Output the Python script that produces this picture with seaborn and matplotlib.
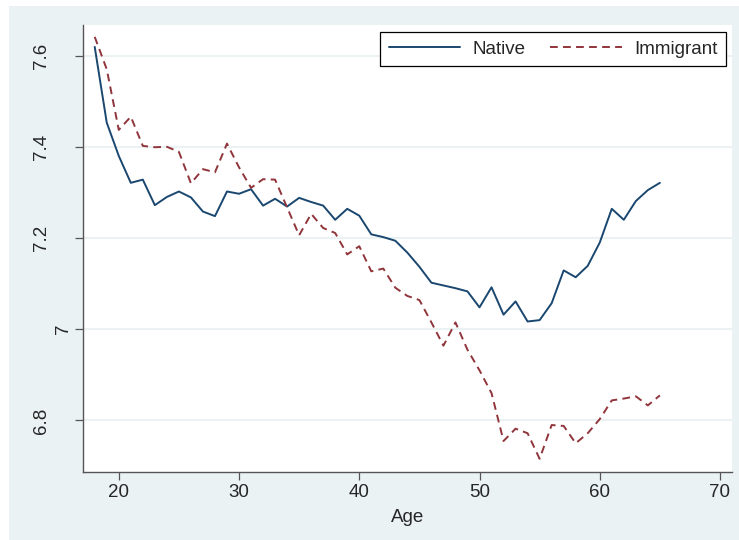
import numpy as np
import pandas as pd
import matplotlib
matplotlib.use("Agg")
import matplotlib.pyplot as plt
import matplotlib.transforms as mtransforms
from matplotlib.patches import Rectangle
from matplotlib.lines import Line2D
import seaborn as sns

# data (mean value by age)
ages = np.arange(18, 66)
native = [7.619, 7.453, 7.380, 7.321, 7.328, 7.272, 7.290, 7.302, 7.289, 7.258,
          7.248, 7.302, 7.297, 7.307, 7.271, 7.286, 7.269, 7.288, 7.279, 7.271,
          7.240, 7.264, 7.249, 7.208, 7.202, 7.194, 7.168, 7.137, 7.102, 7.096,
          7.090, 7.083, 7.048, 7.092, 7.032, 7.061, 7.017, 7.020, 7.057, 7.129,
          7.114, 7.139, 7.190, 7.264, 7.240, 7.281, 7.305, 7.321]
immigrant = [7.641, 7.570, 7.437, 7.466, 7.402, 7.399, 7.400, 7.389, 7.320, 7.351,
             7.344, 7.407, 7.355, 7.310, 7.329, 7.328, 7.267, 7.206, 7.253, 7.222,
             7.211, 7.164, 7.182, 7.127, 7.133, 7.091, 7.073, 7.064, 7.015, 6.964,
             7.015, 6.955, 6.910, 6.860, 6.755, 6.782, 6.772, 6.716, 6.790, 6.788,
             6.750, 6.772, 6.803, 6.844, 6.848, 6.853, 6.833, 6.855]
x_ticks = [20, 30, 40, 50, 60, 70]
y_ticks = [6.8, 7.0, 7.2, 7.4, 7.6]
y_tick_labels = ["6.8", "7", "7.2", "7.4", "7.6"]

navy = "#1a476f"
maroon = "#90353b"
bluish = "#eaf2f3"

sns.set_style("white")
plt.rcParams["font.family"] = ["Liberation Sans", "DejaVu Sans"]

fig = plt.figure(figsize=(7.39, 5.40), dpi=100, facecolor="white")
# Stata-like outer graph region, kept behind the axes
fig.add_artist(Rectangle((0.0122, 0.0), 0.9878, 0.9889, transform=fig.transFigure,
                         facecolor=bluish, edgecolor="none", zorder=-10))
ax = fig.add_axes([0.1119, 0.1259, 0.8780, 0.8278])
ax.set_facecolor("white")

sns.lineplot(x=ages, y=native, ax=ax, color=navy, linewidth=1.4)
sns.lineplot(x=ages, y=immigrant, ax=ax, color=maroon, linewidth=1.4,
             linestyle=(0, (4, 2.7)))

ax.set_xlim(17.0, 70.96)
ax.set_ylim(6.687, 7.667)
ax.set_xticks(x_ticks)
ax.set_yticks(y_ticks)
ax.set_yticklabels(y_tick_labels, rotation=90, va="center", ha="center")

ax.grid(axis="y", color=bluish, linewidth=1.5)
ax.grid(axis="x", visible=False)
ax.set_axisbelow(True)

for side in ["top", "right"]:
    ax.spines[side].set_visible(False)
for side in ["left", "bottom"]:
    ax.spines[side].set_color("#555555")
    ax.spines[side].set_linewidth(1.0)

ax.tick_params(axis="x", length=5.5, width=0.9, color="#555555", labelsize=13.5, pad=2.8,
               bottom=True)
ax.tick_params(axis="y", length=5.5, width=0.9, color="#555555", labelsize=13.5, pad=24,
               left=True)

# Stata puts the short "7" label closer to the axis
for lab in ax.get_yticklabels():
    if lab.get_text() == "7":
        lab.set_transform(lab.get_transform() +
                          mtransforms.ScaledTranslation(22 / 100, 0, fig.dpi_scale_trans))

ax.set_xlabel("Age", fontsize=13.5, labelpad=6)
ax.set_ylabel("")

handles = [Line2D([], [], color=navy, linewidth=1.4),
           Line2D([], [], color=maroon, linewidth=1.4, linestyle=(0, (4, 2.7)))]
leg = ax.legend(handles, ["Native", "Immigrant"], ncol=2, loc="upper right",
                bbox_to_anchor=(0.991, 0.9837), fontsize=13.5, frameon=True,
                fancybox=False, shadow=False, borderpad=0.45, handlelength=3.8,
                handletextpad=0.65, columnspacing=1.35, borderaxespad=0)
leg.get_frame().set_edgecolor("black")
leg.get_frame().set_linewidth(0.9)
leg.get_frame().set_facecolor("white")
leg.get_frame().set_alpha(1)

fig.savefig("out.png", dpi=100, facecolor=fig.get_facecolor())
